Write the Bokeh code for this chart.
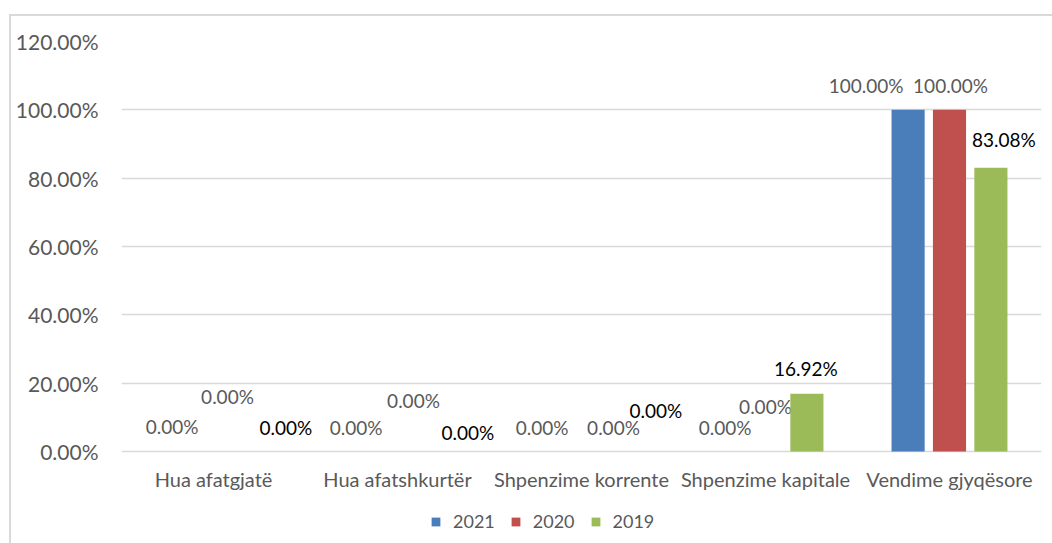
from bokeh.plotting import figure
from bokeh.models import (ColumnDataSource, FactorRange, Range1d, PrintfTickFormatter,
                          Legend, LegendItem, InlineStyleSheet)
from bokeh.transform import dodge
from bokeh.core.properties import value
from bokeh.embed import file_html
from bokeh.resources import INLINE

categories = ["Hua afatgjatë", "Hua afatshkurtër", "Shpenzime korrente",
              "Shpenzime kapitale", "Vendime gjyqësore"]
series = ["2021", "2020", "2019"]
v2021 = [0.0, 0.0, 0.0, 0.0, 100.0]
v2020 = [0.0, 0.0, 0.0, 0.0, 100.0]
v2019 = [0.0, 0.0, 0.0, 16.92, 83.08]
y_ticks = [0, 20, 40, 60, 80, 100, 120]

colors = ["#4A7EBB", "#C0504D", "#9BBB59"]
label_colors = ["#595959", "#595959", "#000000"]
offsets = [-0.225, 0.0, 0.225]
# label placement nudges (pixels): x shift, rise above bar top
label_dx = [[0, 0, 2, 1, -42], [14, 16, 32, 0, 1], [31, 29, 33, -1, 13]]
label_rise = [[25, 24, 24, 24, 24], [55, 51, 24, 45, 24], [24, 19, 41, 25, 28]]

FONT = "Lato"
W, H = 1052, 543
F_LEFT, F_RIGHT, F_TOP = 121, 11, 41
px_per_unit = (451 - F_TOP) / 120.0
y_bottom = -(H - 451) / px_per_unit

p = figure(x_range=FactorRange(*categories), y_range=Range1d(y_bottom, 120),
           width=W, height=H, output_backend="svg", toolbar_location=None,
           x_axis_location=None,
           min_border_left=F_LEFT, min_border_right=F_RIGHT, min_border_top=F_TOP,
           min_border_bottom=0)
p.outline_line_color = None
p.background_fill_color = "white"
p.border_fill_color = "white"

vals = [v2021, v2020, v2019]
renderers = []
for i, s in enumerate(series):
    src = ColumnDataSource(dict(cat=categories, val=vals[i]))
    r = p.vbar(x=dodge("cat", offsets[i], range=p.x_range), top="val", width=0.18,
               source=src, fill_color=colors[i], line_color=None)
    renderers.append(r)
    for j, c in enumerate(categories):
        p.text(x=dodge("cat", offsets[i], range=p.x_range), y="val", text="lab",
               source=ColumnDataSource(dict(cat=[c], val=[vals[i][j]],
                                            lab=["%.2f%%" % vals[i][j]])),
               text_align="center", text_baseline="middle",
               x_offset=label_dx[i][j], y_offset=-label_rise[i][j],
               text_font=value(FONT), text_font_size="19px",
               text_color=label_colors[i])

# category labels under the baseline
p.text(x="cat", y="base", text="cat",
       source=ColumnDataSource(dict(cat=categories, base=[0] * len(categories))),
       text_align="center", text_baseline="middle", y_offset=27,
       text_font=value(FONT), text_font_size="20px", text_color="#595959")

p.yaxis.ticker = y_ticks
p.yaxis.formatter = PrintfTickFormatter(format="%.2f%%")
p.yaxis.axis_line_color = None
p.yaxis.major_tick_line_color = None
p.yaxis.minor_tick_line_color = None
p.yaxis.major_label_standoff = 17
p.yaxis.major_label_text_font = FONT
p.yaxis.major_label_text_font_size = "21px"
p.yaxis.major_label_text_color = "#595959"

p.xgrid.grid_line_color = None
p.ygrid.grid_line_color = "#D9D9D9"
p.ygrid.grid_line_width = 1.5

legend = Legend(items=[LegendItem(label=s, renderers=[renderers[i]]) for i, s in enumerate(series)],
                orientation="horizontal", location=(309, 11),
                glyph_width=11, glyph_height=11, label_standoff=12, spacing=15,
                label_text_font=FONT, label_text_font_size="18px",
                label_text_color="#595959", border_line_color=None,
                background_fill_alpha=0, margin=0, padding=4)
p.add_layout(legend)

# light chart-area border (left and top edges, as in the reference)
p.stylesheets = [InlineStyleSheet(css=(
    ":host::after { content: ''; position: absolute; left: 9px; top: 14px; "
    "right: 0; bottom: 0; border-left: 2px solid #D9D9D9; "
    "border-top: 2px solid #D9D9D9; pointer-events: none; z-index: 10; }"))]

open("out.html", "w").write(file_html(p, INLINE))
